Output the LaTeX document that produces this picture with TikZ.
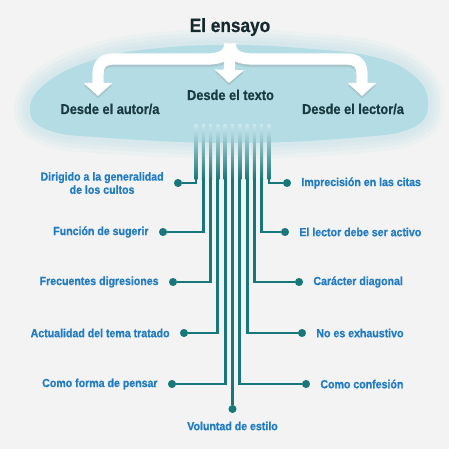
\documentclass[tikz,border=0pt]{standalone}
\usepackage{fontspec}
\setmainfont{Liberation Sans}[FakeStretch=0.9, BoldFeatures={FakeBold=0.7}]
\usetikzlibrary{arrows.meta, positioning}

\definecolor{bgcol}{HTML}{F4F3F3}
\definecolor{cloudblue}{HTML}{B4DCE4}
\definecolor{linetop}{HTML}{C9E6EC}
\definecolor{lineteal}{HTML}{17777A}
\definecolor{itemblue}{HTML}{1F7BC4}
\definecolor{headdark}{HTML}{1B3B42}
\definecolor{titledark}{HTML}{16292E}

\tikzset{
    titlebox/.style={font=\bfseries\fontsize{10.9}{12}\selectfont, text=titledark, inner sep=0pt, anchor=base, text depth=6.5pt},
    headbox/.style={font=\bfseries\fontsize{8.1}{9.5}\selectfont, text=headdark, inner sep=0pt, anchor=base},
    item/.style={font=\bfseries\fontsize{6.7}{7.5}\selectfont, text=itemblue, inner sep=0pt, align=center},
    dot/.style={circle, fill=lineteal, inner sep=0pt, minimum size=4.6pt},
    conn/.style={draw=lineteal, line width=1.7pt},
    brace/.style={draw=white, line width=6.4pt, -{Triangle[width=16pt, length=7.5pt]}},
    braceshadow/.style={brace, draw=black!55, opacity=0.2, transform canvas={yshift=-1.4pt}}
}

\begin{document}
\begin{tikzpicture}[x=0.02cm, y=-0.02cm]
    % Background
    \fill[bgcol] (0,0) rectangle (449,449);
    \useasboundingbox (0,0) rectangle (449,449);

    % Soft cloud behind the three views
    \foreach \w in {32,24,16,9} {
        \draw[cloudblue, opacity=0.13, line width=\w*0.567pt, line join=round]
            plot[smooth cycle, tension=0.7] coordinates {(30,108) (50,80) (100,58) (160,48) (230,45) (300,48) (370,56) (412,74) (428,102) (412,128) (350,138) (233,143) (110,138) (48,130)};
    }
    \fill[cloudblue] plot[smooth cycle, tension=0.7] coordinates {(30,108) (50,80) (100,58) (160,48) (230,45) (300,48) (370,56) (412,74) (428,102) (412,128) (350,138) (233,143) (110,138) (48,130)};

    % Title and the three views
    \node[titlebox] (title) at (230,32) {El ensayo};
    \node[headbox] (autor) at (110,114) {Desde el autor/a};
    \node[headbox] (texto) at (230.5,100) {Desde el texto};
    \node[headbox] (lector) at (353,114) {Desde el lector/a};

    \coordinate (tipA) at (98,96);
    \coordinate (tipB) at (229,83);
    \coordinate (tipC) at (362,96);

    % White brace arrows (shadow first)
    \foreach \st in {braceshadow, brace} {
        \draw[\st] (title.south) .. controls (229,54) and (223,59) .. (207,59) -- (114,59)
            .. controls (102,59) and (98,64) .. (98,76) -- (tipA);
        \draw[\st] (title.south) .. controls (231,54) and (237,59) .. (253,59) -- (346,59)
            .. controls (358,59) and (362,64) .. (362,76) -- (tipC);
        \draw[\st] (title.south) -- (tipB);
    }

    % Left characteristics
    \node[dot] (d1) at (178,183) {};
    \node[item, left=5.5pt of d1] (t1) {Dirigido a la generalidad\\de los cultos};
    \node[dot] (d2) at (163,232) {};
    \node[item, left=5.5pt of d2] (t2) {Función de sugerir};
    \node[dot] (d3) at (173,282) {};
    \node[item, left=5.5pt of d3] (t3) {Frecuentes digresiones};
    \node[dot] (d4) at (184,333) {};
    \node[item, left=5.5pt of d4] (t4) {Actualidad del tema tratado};
    \node[dot] (d5) at (172,384) {};
    \node[item, left=5.5pt of d5] (t5) {Como forma de pensar};

    % Right characteristics
    \node[dot] (d6) at (287,183) {};
    \node[item, right=5.5pt of d6] (t6) {Imprecisión en las citas};
    \node[dot] (d7) at (285,232) {};
    \node[item, right=5.5pt of d7] (t7) {El lector debe ser activo};
    \node[dot] (d8) at (299,282) {};
    \node[item, right=5.5pt of d8] (t8) {Carácter diagonal};
    \node[dot] (d9) at (302,333) {};
    \node[item, right=5.5pt of d9] (t9) {No es exhaustivo};
    \node[dot] (d10) at (306,384) {};
    \node[item, right=5.5pt of d10] (t10) {Como confesión};

    % Bottom characteristic
    \node[dot] (d0) at (232.5,409) {};
    \node[item, below=4.5pt of d0] (t0) {Voluntad de estilo};

    % Line starts inside the cloud
    \coordinate (s1) at (196,125);
    \coordinate (s2) at (203.3,125);
    \coordinate (s3) at (210.6,125);
    \coordinate (s4) at (217.9,125);
    \coordinate (s5) at (225.2,125);
    \coordinate (s0) at (232.5,125);
    \coordinate (s10) at (239.8,125);
    \coordinate (s9) at (247.1,125);
    \coordinate (s8) at (254.4,125);
    \coordinate (s7) at (261.7,125);
    \coordinate (s6) at (269,125);

    % Connectors
    \foreach \s/\d in {s1/d1, s2/d2, s3/d3, s4/d4, s5/d5, s6/d6, s7/d7, s8/d8, s9/d9, s10/d10} {
        \draw[conn] (\s) |- (\d);
    }
    \draw[conn] (s0) -- (d0);

    % Fade the tops of the lines into the cloud
    \foreach \s in {s0, s1, s2, s3, s4, s5, s6, s7, s8, s9, s10} {
        \shade[top color=linetop, bottom color=lineteal] ([xshift=-0.85pt]\s) rectangle ([xshift=0.85pt, yshift=-31pt]\s);
    }
\end{tikzpicture}
\end{document}
